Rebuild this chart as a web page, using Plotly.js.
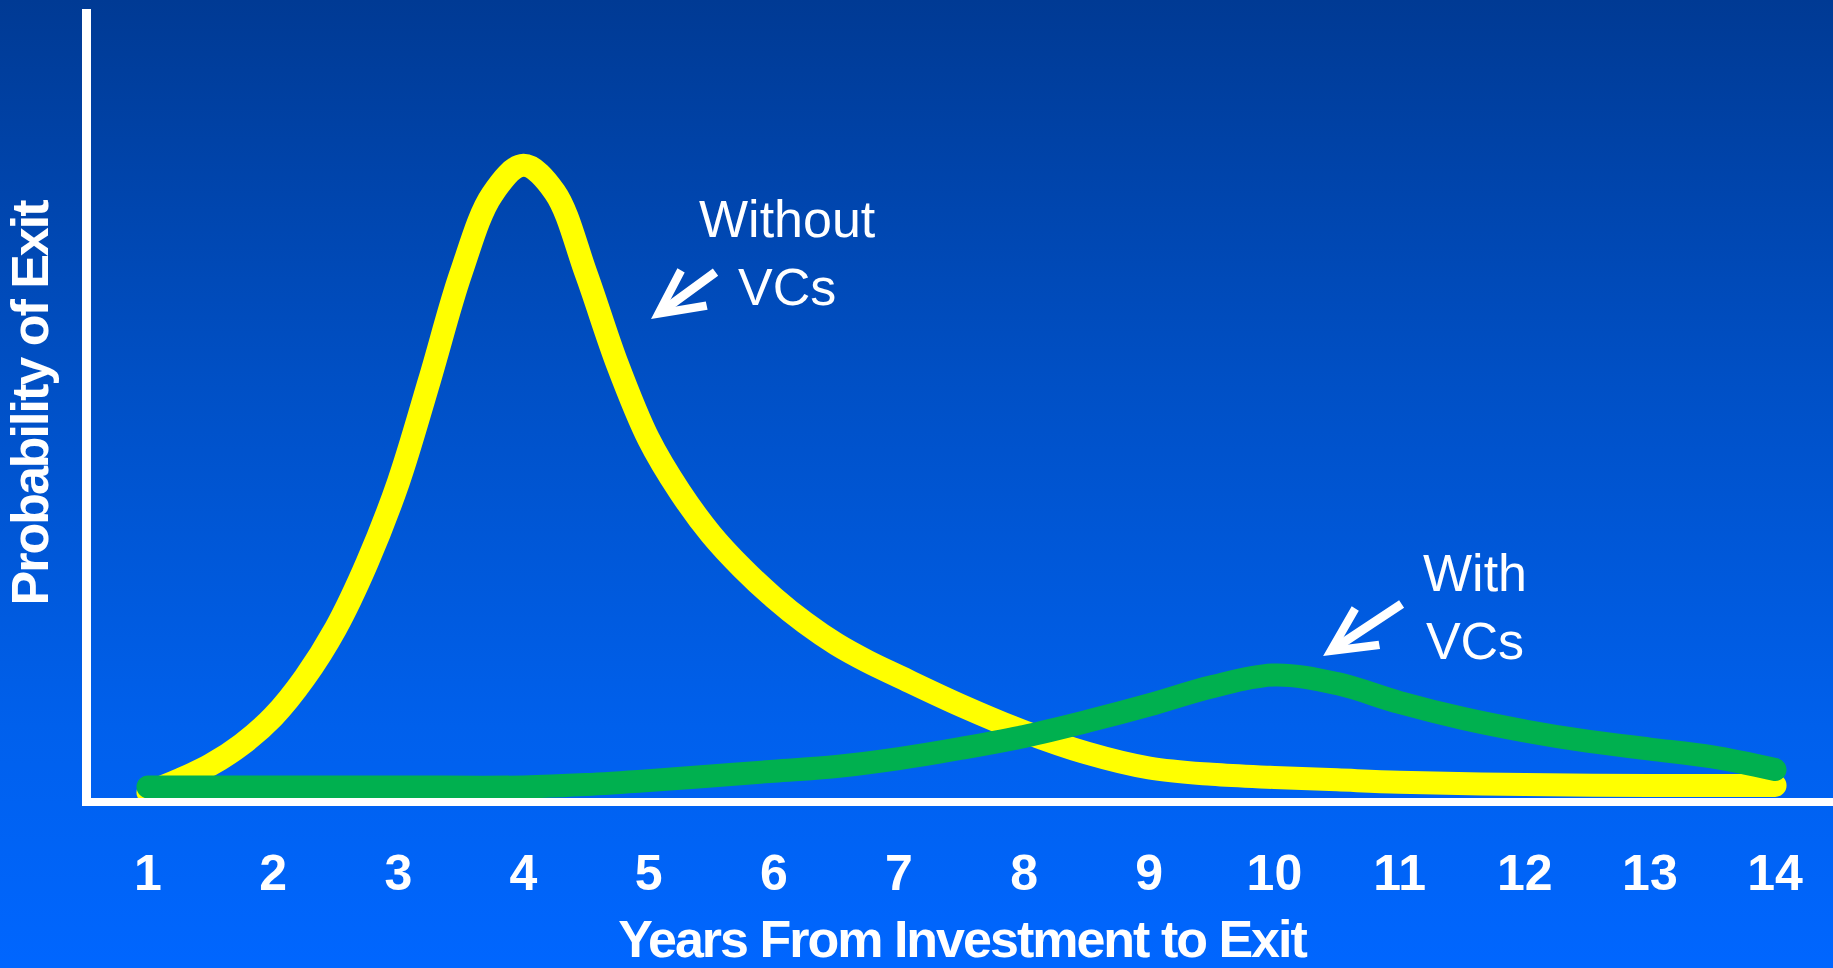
<!DOCTYPE html>
<html>
<head>
<meta charset="utf-8">
<script src="https://cdn.plot.ly/plotly-3.0.1.min.js"></script>
<style>
  html, body { margin: 0; padding: 0; }
  body {
    width: 1833px; height: 968px; overflow: hidden;
    background: linear-gradient(to bottom, #003a94 0%, #0050c6 40%, #0060ec 75%, #0066ff 100%);
  }
  #chart { width: 1833px; height: 968px; }
  .js-line { stroke-linecap: round; }
  .xtitle, .ytitle { letter-spacing: -2px; }
</style>
</head>
<body>
<div id="chart"></div>
<script>
// Years from investment to exit (x axis ticks)
const yearTicks = [1, 2, 3, 4, 5, 6, 7, 8, 9, 10, 11, 12, 13, 14];
const yearLabels = yearTicks.map(String);

// Relative probability of exit, firms without venture capital backing
const yearsWithout = [1, 1.25, 1.5, 1.75, 2, 2.25, 2.5, 2.75, 3, 3.25, 3.5, 3.75, 4,
  4.25, 4.5, 4.75, 5, 5.25, 5.5, 5.75, 6, 6.25, 6.5, 6.75, 7, 7.5, 8, 8.5, 9, 9.5,
  10, 10.5, 11, 12, 13, 14];
const probWithout = [0.7, 2.3, 4.2, 6.8, 10.3, 15.2, 21.5, 29.8, 40.0, 53.0, 66.5, 76.5, 80.2,
  76.8, 66.5, 55.0, 45.5, 38.8, 33.4, 29.1, 25.4, 22.2, 19.5, 17.3, 15.4, 11.7, 8.4, 5.7, 3.8, 3.0,
  2.6, 2.3, 2.0, 1.7, 1.6, 1.6];

// Relative probability of exit, venture-backed firms
const yearsWith = [1, 2, 3, 4, 4.5, 5, 5.5, 6, 6.5, 7, 7.5, 8, 8.5, 9, 9.5, 10, 10.5, 11,
  11.5, 12, 12.5, 13, 13.5, 14];
const probWith = [1.4, 1.4, 1.4, 1.4, 1.7, 2.2, 2.8, 3.4, 4.0, 5.0, 6.3, 7.8, 9.7, 11.8,
  14.1, 15.6, 14.5, 12.1, 10.1, 8.5, 7.2, 6.2, 5.2, 3.6];

const traces = [
  {
    x: yearsWithout, y: probWithout, name: 'Without VCs',
    type: 'scatter', mode: 'lines',
    line: { color: '#ffff00', width: 23, shape: 'spline', smoothing: 1 },
    hoverinfo: 'skip'
  },
  {
    x: yearsWith, y: probWith, name: 'With VCs',
    type: 'scatter', mode: 'lines',
    line: { color: '#00b04f', width: 23, shape: 'spline', smoothing: 1 },
    hoverinfo: 'skip'
  }
];

const labelFont = { family: 'Liberation Sans, Arial, sans-serif', size: 52, color: '#ffffff' };
const arrowStyle = { showarrow: true, arrowcolor: '#ffffff', arrowwidth: 9, arrowhead: 5, arrowsize: 0.95, standoff: 0, text: '' };

const layout = {
  width: 1833, height: 968,
  paper_bgcolor: 'rgba(0,0,0,0)',
  plot_bgcolor: 'rgba(0,0,0,0)',
  margin: { l: 91, r: 0, t: 9, b: 170, pad: 0 },
  showlegend: false,
  xaxis: {
    range: [0.5446, 14.463],
    tickmode: 'array', tickvals: yearTicks, ticktext: yearLabels,
    ticks: '', showgrid: false, zeroline: false,
    showline: true, linecolor: '#ffffff', linewidth: 8,
    ticklabelstandoff: 24,
    tickfont: { family: 'Liberation Sans, Arial, sans-serif', size: 50, color: '#ffffff', weight: 'bold' },
    title: {
      text: 'Years From Investment to Exit',
      font: { family: 'Liberation Sans, Arial, sans-serif', size: 52, color: '#ffffff', weight: 'bold' },
      standoff: 33
    },
    fixedrange: true
  },
  yaxis: {
    range: [0, 100],
    showticklabels: false, ticks: '', showgrid: false, zeroline: false,
    showline: true, linecolor: '#ffffff', linewidth: 9,
    title: {
      text: 'Probability of Exit',
      font: { family: 'Liberation Sans, Arial, sans-serif', size: 52, color: '#ffffff', weight: 'bold' },
      standoff: 20
    },
    fixedrange: true
  },
  annotations: [
    Object.assign({}, arrowStyle, { x: 5.019, y: 60.7, xref: 'x', yref: 'y', ax: 66, ay: -48 }),
    { x: 6.106, y: 69.1, xref: 'x', yref: 'y', text: 'Without<br>VCs', showarrow: false,
      font: labelFont, align: 'center', xanchor: 'center', yanchor: 'middle' },
    Object.assign({}, arrowStyle, { x: 10.389, y: 18.0, xref: 'x', yref: 'y', ax: 80, ay: -53 }),
    { x: 11.603, y: 24.2, xref: 'x', yref: 'y', text: 'With<br>VCs', showarrow: false,
      font: labelFont, align: 'center', xanchor: 'center', yanchor: 'middle' }
  ]
};

Plotly.newPlot('chart', traces, layout, { displayModeBar: false, staticPlot: true });
</script>
</body>
</html>
